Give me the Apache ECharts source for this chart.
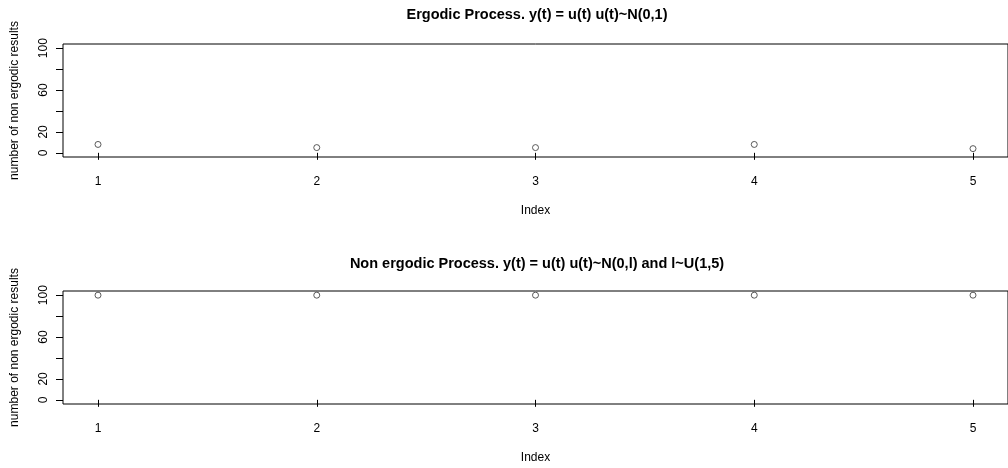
<!DOCTYPE html>
<html>
<head>
<meta charset="utf-8">
<script src="https://cdn.jsdelivr.net/npm/echarts@6/dist/echarts.min.js"></script>
<style>
  html, body { margin: 0; padding: 0; background: #fff; }
  #chartDom { width: 1008px; height: 468px; }
</style>
</head>
<body>
<div id="chartDom"></div>
<script>
// data
const indexValues = [1, 2, 3, 4, 5]
const ergodicCounts = [8, 5, 5, 8, 4]
const nonErgodicCounts = [100, 100, 100, 100, 100]
const yTicks = [0, 20, 40, 60, 80, 100]
const yLabels = [0, 20, 60, 100]   // R drops 40 and 80 (overlap)
const titles = [
  'Ergodic Process. y(t) = u(t) u(t)~N(0,1)',
  'Non ergodic Process. y(t) = u(t) u(t)~N(0,l) and l~U(1,5)'
]

const font = 'Liberation Sans, Arial, sans-serif'
const chart = echarts.init(document.getElementById('chartDom'))

const panelTops = [44, 291]

function makeX (i) {
  return {
    type: 'value',
    gridIndex: i,
    min: 0.84,
    max: 5.16,
    name: 'Index',
    nameLocation: 'middle',
    nameGap: 48,
    nameTextStyle: { color: '#000', fontFamily: font, fontSize: 12 },
    axisLine: { show: false },
    splitLine: { show: false },
    axisTick: { show: true, length: 7, lineStyle: { color: '#000' }, customValues: indexValues },
    axisLabel: { color: '#000', fontFamily: font, fontSize: 12, margin: 19, customValues: indexValues }
  }
}

function makeY (i) {
  return {
    type: 'value',
    gridIndex: i,
    min: -4,
    max: 104,
    name: 'number of non ergodic results',
    nameLocation: 'middle',
    nameRotate: 90,
    nameGap: 42,
    nameTextStyle: { color: '#000', fontFamily: font, fontSize: 12 },
    axisLine: { show: false },
    splitLine: { show: false },
    axisTick: { show: true, length: 7, lineStyle: { color: '#000' }, customValues: yTicks },
    axisLabel: { color: '#000', fontFamily: font, fontSize: 12, margin: 13, rotate: 90, customValues: yLabels }
  }
}

function makeSeries (i, vals) {
  return {
    type: 'scatter',
    xAxisIndex: i,
    yAxisIndex: i,
    symbol: 'circle',
    symbolSize: 6,
    itemStyle: { color: '#fff', borderColor: '#333', borderWidth: 1 },
    data: indexValues.map((x, k) => [x, vals[k]]),
    animation: false
  }
}

const option = {
  backgroundColor: '#fff',
  animation: false,
  title: titles.map((t, i) => ({
    text: t,
    left: 537,
    textAlign: 'center',
    top: i === 0 ? 7 : 256,
    padding: 0,
    textStyle: { color: '#000', fontFamily: font, fontSize: 14.5, fontWeight: 'bold' }
  })),
  grid: panelTops.map(top => ({
    left: 63,
    top: top,
    width: 949,
    height: 113,
    show: true,
    borderColor: '#000',
    borderWidth: 1,
    backgroundColor: 'transparent'
  })),
  xAxis: [makeX(0), makeX(1)],
  yAxis: [makeY(0), makeY(1)],
  series: [makeSeries(0, ergodicCounts), makeSeries(1, nonErgodicCounts)]
}

chart.setOption(option)
</script>
</body>
</html>
